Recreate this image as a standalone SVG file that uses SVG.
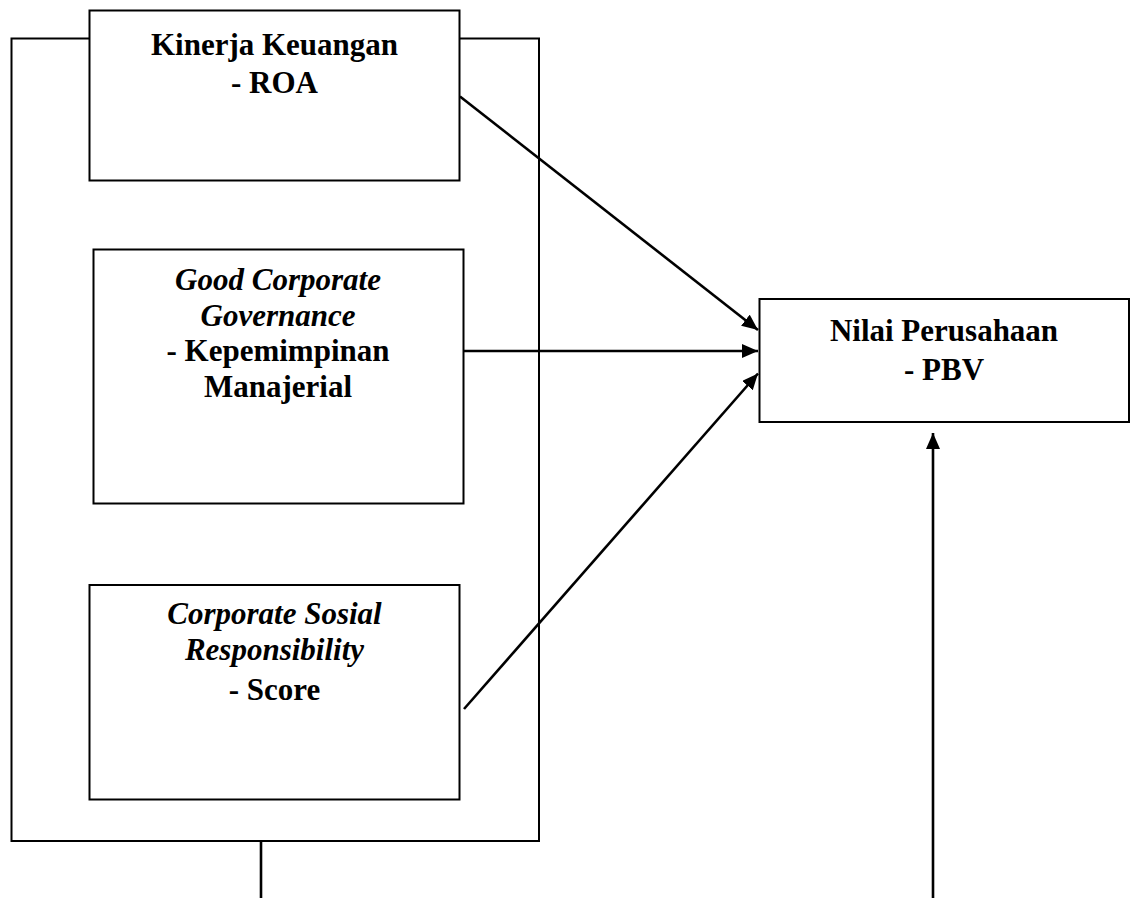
<svg xmlns="http://www.w3.org/2000/svg" width="1131" height="898" viewBox="0 0 1131 898">
  <defs>
    <style>
      .box { fill: #ffffff; stroke: #000000; stroke-width: 2; }
      .frame { fill: none; stroke: #000000; stroke-width: 2; }
      .conn { fill: none; stroke: #000000; stroke-width: 2.6; }
      .t { font-family: "Liberation Serif", "Times New Roman", serif; font-size: 31px; font-weight: bold; text-anchor: middle; fill: #000000; }
      .i { font-style: italic; }
    </style>
    <marker id="arrow" markerUnits="userSpaceOnUse" markerWidth="18" markerHeight="16" refX="16" refY="7" orient="auto">
      <path d="M0,0 L16,7 L0,14 Z" fill="#000000"/>
    </marker>
  </defs>
  <rect width="1131" height="898" fill="#ffffff"/>

  <g id="frame">
    <rect class="frame" x="11.5" y="38.5" width="527.5" height="802.5"/>
  </g>

  <g id="connectors">
    <line class="conn" x1="261" y1="841" x2="261" y2="898"/>
    <line class="conn" x1="460" y1="96.5" x2="758" y2="330" marker-end="url(#arrow)"/>
    <line class="conn" x1="463" y1="351" x2="758" y2="351" marker-end="url(#arrow)"/>
    <line class="conn" x1="464" y1="709" x2="758" y2="373.5" marker-end="url(#arrow)"/>
    <line class="conn" x1="933" y1="898" x2="933" y2="433" marker-end="url(#arrow)"/>
  </g>

  <g id="node-kinerja">
    <rect class="box" x="89.5" y="10.5" width="370" height="170"/>
    <text class="t" x="274.5" y="55">Kinerja Keuangan</text>
    <text class="t" x="274.5" y="93">- ROA</text>
  </g>

  <g id="node-gcg">
    <rect class="box" x="93.5" y="249.5" width="370" height="254"/>
    <text class="t i" x="278" y="290">Good Corporate</text>
    <text class="t i" x="278" y="326">Governance</text>
    <text class="t" x="278" y="361">- Kepemimpinan</text>
    <text class="t" x="278" y="397">Manajerial</text>
  </g>

  <g id="node-csr">
    <rect class="box" x="89.5" y="585" width="370" height="214.5"/>
    <text class="t i" x="274.5" y="624">Corporate Sosial</text>
    <text class="t i" x="274.5" y="660">Responsibility</text>
    <text class="t" x="274.5" y="700">- Score</text>
  </g>

  <g id="node-pbv">
    <rect class="box" x="759.5" y="299" width="369.5" height="123"/>
    <text class="t" x="944" y="341">Nilai Perusahaan</text>
    <text class="t" x="944" y="380">- PBV</text>
  </g>
</svg>
